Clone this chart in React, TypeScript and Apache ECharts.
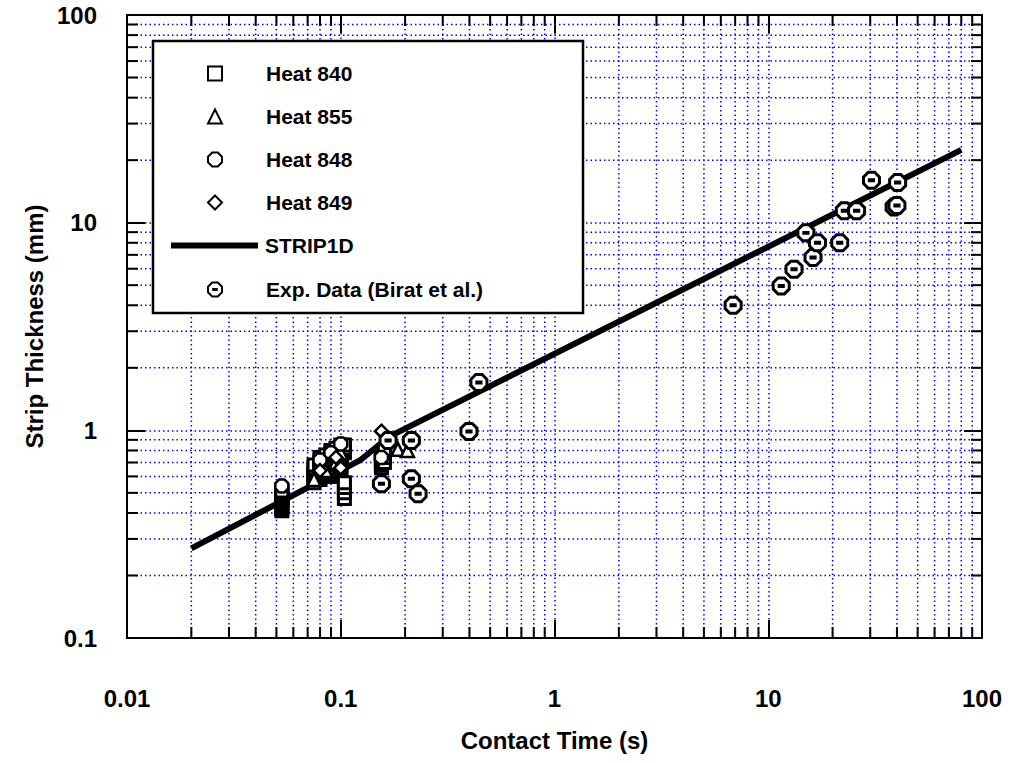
import React, { useEffect, useRef } from 'react';
import * as echarts from 'echarts';

// ---- tick labels ----
const xTickLabels = ['0.01', '0.1', '1', '10', '100'];
const yTickLabels = ['0.1', '1', '10', '100'];
const xDecades = [0.01, 0.1, 1, 10];
const yDecades = [0.1, 1, 10];
const minorSteps = [2, 3, 4, 5, 6, 7, 8, 9];

// ---- series names ----
const names = ['Heat 840', 'Heat 855', 'Heat 848', 'Heat 849', 'STRIP1D', 'Exp. Data (Birat et al.)'];

// ---- data: [contact time (s), strip thickness (mm)] ----
const heat840 = [
  [0.053, 0.41], [0.053, 0.42], [0.053, 0.43], [0.053, 0.44], [0.053, 0.45], [0.053, 0.46],
  [0.053, 0.47], [0.053, 0.48], [0.053, 0.49], [0.053, 0.5], [0.053, 0.51],
  [0.075, 0.56], [0.075, 0.58], [0.075, 0.6], [0.075, 0.62], [0.075, 0.64], [0.075, 0.66], [0.075, 0.68],
  [0.08, 0.58], [0.08, 0.6], [0.08, 0.62], [0.08, 0.64], [0.08, 0.66], [0.08, 0.68], [0.08, 0.7], [0.08, 0.72], [0.08, 0.74],
  [0.085, 0.6], [0.085, 0.62], [0.085, 0.64], [0.085, 0.66], [0.085, 0.68], [0.085, 0.7], [0.085, 0.72], [0.085, 0.74], [0.085, 0.76],
  [0.09, 0.6], [0.09, 0.62], [0.09, 0.64], [0.09, 0.66], [0.09, 0.68], [0.09, 0.7], [0.09, 0.72], [0.09, 0.74], [0.09, 0.76], [0.09, 0.78], [0.09, 0.8],
  [0.095, 0.62], [0.095, 0.64], [0.095, 0.66], [0.095, 0.68], [0.095, 0.7], [0.095, 0.72], [0.095, 0.74], [0.095, 0.76], [0.095, 0.78], [0.095, 0.8], [0.095, 0.82],
  [0.1, 0.62], [0.1, 0.64], [0.1, 0.66], [0.1, 0.68], [0.1, 0.7], [0.1, 0.72], [0.1, 0.74], [0.1, 0.76], [0.1, 0.78], [0.1, 0.8], [0.1, 0.82], [0.1, 0.85],
  [0.104, 0.47], [0.104, 0.5], [0.104, 0.53], [0.104, 0.56], [0.104, 0.78], [0.104, 0.8], [0.104, 0.82], [0.104, 0.85],
  [0.155, 0.66], [0.155, 0.68], [0.155, 0.7], [0.155, 0.72], [0.155, 0.74], [0.155, 0.76], [0.155, 0.78],
  [0.16, 0.7], [0.16, 0.74], [0.16, 0.8],
];
const heat855 = [
  [0.075, 0.58], [0.08, 0.66], [0.085, 0.64], [0.095, 0.7], [0.1, 0.78], [0.185, 0.81], [0.205, 0.8],
];
const heat848 = [
  [0.053, 0.54], [0.08, 0.72], [0.09, 0.78], [0.1, 0.86], [0.155, 0.74],
];
const heat849 = [
  [0.155, 0.99], [0.08, 0.64], [0.095, 0.74], [0.1, 0.66],
];
const stripTime = [0.02, 0.1228, 0.1694, 80];
const stripThick = [0.27, 0.716, 0.935, 22.4];
const expData = [
  [0.155, 0.553], [0.1665, 0.894], [0.214, 0.894], [0.214, 0.584], [0.23, 0.495],
  [0.398, 0.988], [0.443, 1.7],
  [6.85, 4.0], [11.5, 4.96], [13.2, 5.97], [16.2, 6.8], [15.0, 8.93], [17.0, 8.0],
  [21.6, 8.0], [22.7, 11.4], [25.9, 11.4], [30.4, 16.0], [40.3, 15.6], [38.8, 11.9], [40.0, 12.1],
];

const FONT = 'Liberation Sans, Arial, Helvetica, sans-serif';
const OCTAGON = 'path://M3,0 L7,0 L10,3 L10,7 L7,10 L3,10 L0,7 L0,3 Z';
const OCTAGON_DASH = 'path://M3,0 L7,0 L10,3 L10,7 L7,10 L3,10 L0,7 L0,3 Z M3.7,4.7 L6.3,4.7 L6.3,5.3 L3.7,5.3 Z';
const LINE_ICON = 'path://M0,0 L87,0 L87,6 L0,6 Z';
const GRID_STYLE = { stroke: '#0000ff', lineWidth: 1.5, lineDash: [1.5, 3] };
const MINOR_TICK = 11;

const xMinor: number[][] = [];
xDecades.forEach((d) => minorSteps.forEach((m) => xMinor.push([+(d * m).toPrecision(3), 1])));
const yMinor: number[][] = [];
yDecades.forEach((d) => minorSteps.forEach((m) => yMinor.push([1, +(d * m).toPrecision(3)])));

const markerStyle = { color: '#ffffff', borderColor: '#000000', borderWidth: 2.5, opacity: 1 };

export default function App() {
  const ref = useRef<HTMLDivElement>(null);
  useEffect(() => {
    if (!ref.current) return;
    const chart = echarts.init(ref.current, undefined, { renderer: 'svg' });
    const legendText = {
      fontSize: 21, fontWeight: 'bold', color: '#000', fontFamily: FONT, lineHeight: 20,
      padding: [0, 0, 0, 39],
    };
    const legendBase = {
      orient: 'vertical', padding: 0, itemWidth: 14, itemHeight: 14, itemGap: 22,
      selectedMode: false, textStyle: legendText, z: 60,
    };
    const option: any = {
      animation: false,
      backgroundColor: '#ffffff',
      grid: { left: 127, top: 15, right: 29, bottom: 125, containLabel: false },
      xAxis: [
        {
          type: 'log', logBase: 10, min: 0.01, max: 100, position: 'bottom',
          name: 'Contact Time (s)', nameLocation: 'middle', nameGap: 90,
          nameTextStyle: { fontSize: 24, fontWeight: 'bold', color: '#000', fontFamily: FONT },
          axisLine: { lineStyle: { color: '#000', width: 2 } },
          axisTick: { inside: true, length: 18, lineStyle: { color: '#000', width: 2 } },
          axisLabel: {
            margin: 48, fontSize: 24, fontWeight: 'bold', color: '#000', fontFamily: FONT,
            formatter: (v: number) => xTickLabels[Math.round(Math.log10(v)) + 2] ?? '',
          },
          splitLine: { show: true, lineStyle: { color: '#0000ff', width: 1.5, type: [1.5, 3] } },
        },
        {
          type: 'log', logBase: 10, min: 0.01, max: 100, position: 'top',
          axisLine: { lineStyle: { color: '#000', width: 2 } },
          axisTick: { inside: true, length: 18, lineStyle: { color: '#000', width: 2 } },
          axisLabel: { show: false },
          splitLine: { show: false },
        },
      ],
      yAxis: [
        {
          type: 'log', logBase: 10, min: 0.1, max: 100, position: 'left',
          name: 'Strip Thickness (mm)', nameLocation: 'middle', nameGap: 78, nameRotate: 90,
          nameTextStyle: { fontSize: 24, fontWeight: 'bold', color: '#000', fontFamily: FONT },
          axisLine: { lineStyle: { color: '#000', width: 2 } },
          axisTick: { inside: true, length: 18, lineStyle: { color: '#000', width: 2 } },
          axisLabel: {
            margin: 30, fontSize: 24, fontWeight: 'bold', color: '#000', fontFamily: FONT,
            padding: [14, 0, 0, 0],
            formatter: (v: number) => yTickLabels[Math.round(Math.log10(v)) + 1] ?? '',
          },
          splitLine: { show: true, lineStyle: { color: '#0000ff', width: 1.5, type: [1.5, 3] } },
        },
        {
          type: 'log', logBase: 10, min: 0.1, max: 100, position: 'right',
          axisLine: { lineStyle: { color: '#000', width: 2 } },
          axisTick: { inside: true, length: 18, lineStyle: { color: '#000', width: 2 } },
          axisLabel: { show: false },
          splitLine: { show: false },
        },
      ],
      legend: [
        { ...legendBase, data: names.slice(0, 4), left: 207, top: 63 },
        {
          ...legendBase, left: 171, top: 235, itemWidth: 87,
          textStyle: { ...legendText, padding: [0, 0, 0, 2] },
          data: [{ name: names[4], icon: LINE_ICON, itemStyle: { color: '#000', borderWidth: 0 } }],
        },
        { ...legendBase, data: [names[5]], left: 207, top: 279 },
      ],
      graphic: [
        {
          type: 'rect', z: 50,
          shape: { x: 153, y: 41, width: 430, height: 272 },
          style: { fill: '#ffffff', stroke: '#000000', lineWidth: 2.5 },
        },
      ],
      series: [
        {
          type: 'custom', name: 'xminor', z: 1, silent: true, clip: false,
          data: xMinor,
          renderItem: (_p: any, api: any) => {
            const v = api.value(0);
            const b = api.coord([v, 0.1]);
            const t = api.coord([v, 100]);
            return {
              type: 'group',
              children: [
                { type: 'line', shape: { x1: b[0], y1: b[1], x2: t[0], y2: t[1] }, style: GRID_STYLE },
                { type: 'line', shape: { x1: b[0], y1: b[1], x2: b[0], y2: b[1] - MINOR_TICK }, style: { stroke: '#000', lineWidth: 2 } },
                { type: 'line', shape: { x1: t[0], y1: t[1], x2: t[0], y2: t[1] + MINOR_TICK }, style: { stroke: '#000', lineWidth: 2 } },
              ],
            };
          },
        },
        {
          type: 'custom', name: 'yminor', z: 1, silent: true, clip: false,
          data: yMinor,
          renderItem: (_p: any, api: any) => {
            const v = api.value(1);
            const l = api.coord([0.01, v]);
            const r = api.coord([100, v]);
            return {
              type: 'group',
              children: [
                { type: 'line', shape: { x1: l[0], y1: l[1], x2: r[0], y2: r[1] }, style: GRID_STYLE },
                { type: 'line', shape: { x1: l[0], y1: l[1], x2: l[0] + MINOR_TICK, y2: l[1] }, style: { stroke: '#000', lineWidth: 2 } },
                { type: 'line', shape: { x1: r[0], y1: r[1], x2: r[0] - MINOR_TICK, y2: r[1] }, style: { stroke: '#000', lineWidth: 2 } },
              ],
            };
          },
        },
        {
          type: 'line', name: names[4], z: 3, symbol: 'none',
          data: stripTime.map((t, i) => [t, stripThick[i]]),
          lineStyle: { color: '#000', width: 6 },
          itemStyle: { color: '#000' },
        },
        {
          type: 'scatter', name: names[0], z: 4, symbol: 'rect', symbolSize: 12, data: heat840,
          itemStyle: { ...markerStyle, borderWidth: 3 },
        },
        { type: 'scatter', name: names[1], z: 4, symbol: 'triangle', symbolSize: 13, data: heat855, itemStyle: markerStyle },
        { type: 'scatter', name: names[2], z: 4, symbol: OCTAGON, symbolSize: 13, data: heat848, itemStyle: markerStyle },
        { type: 'scatter', name: names[3], z: 4, symbol: 'diamond', symbolSize: 13, data: heat849, itemStyle: markerStyle },
        {
          type: 'scatter', name: names[5], z: 5, symbol: OCTAGON_DASH, symbolSize: 16, data: expData,
          itemStyle: { color: '#ffffff', borderColor: '#000000', borderWidth: 3, opacity: 1 },
        },
      ],
    };
    chart.setOption(option);
    return () => chart.dispose();
  }, []);
  return (
    <div
      ref={ref}
      style={{ position: 'fixed', left: 0, top: 0, width: 1011, height: 763, background: '#fff' }}
    />
  );
}
